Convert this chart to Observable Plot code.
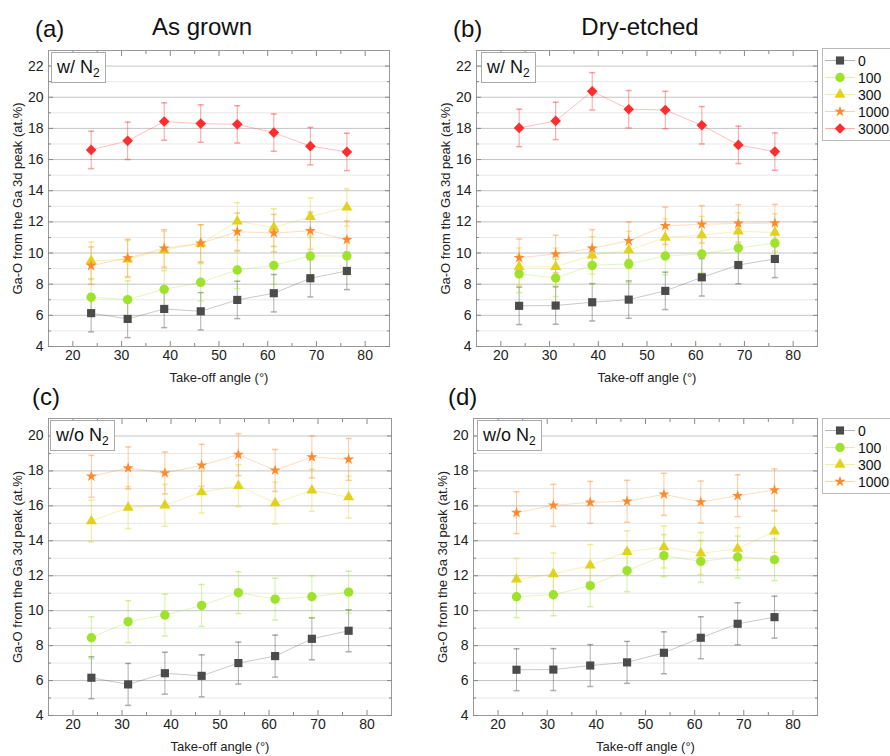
<!DOCTYPE html>
<html><head><meta charset="utf-8">
<script src="https://cdn.jsdelivr.net/npm/d3@7"></script>
<script src="https://cdn.jsdelivr.net/npm/@observablehq/plot@0.6"></script>
<style>
body{margin:0;background:#fff;font-family:"Liberation Sans",Arial,sans-serif;color:#111;}
#root{position:relative;width:890px;height:756px;overflow:hidden;background:#fff;}
.abs{position:absolute;white-space:nowrap;}
.plab{font-size:24px;}
.title{font-size:24px;transform:translateX(-50%);}
.cond{border:1px solid #aaa;background:#fff;font-size:18px;line-height:29px;padding:0 5px;}
.cond sub{font-size:12px;vertical-align:-4px;line-height:0;}
.legend{border:1px solid #bbb;background:#fff;padding:3px 0 3px 1px;width:80px;}
.legend .row{display:flex;align-items:center;height:17px;font-size:14px;color:#111;}
.legend svg{margin-right:2px;flex:none;}
</style></head>
<body><div id="root"></div>
<script>
// ---- data ----
const angles = [23.75, 31.25, 38.75, 46.25, 53.75, 61.25, 68.75, 76.25];
const seriesKeys = ["0", "100", "300", "1000", "3000"];
const xTicks = [20, 30, 40, 50, 60, 70, 80];
const xMinorTicks = [25, 35, 45, 55, 65, 75];
const yTicksTop = [4, 6, 8, 10, 12, 14, 16, 18, 20, 22];
const yMinorTop = [5, 7, 9, 11, 13, 15, 17, 19, 21];
const yTicksBottom = [4, 6, 8, 10, 12, 14, 16, 18, 20];
const yMinorBottom = [5, 7, 9, 11, 13, 15, 17, 19];
const errHalf = 1.2;

// (a) As grown, w/ N2
const a_0    = [6.14, 5.77, 6.41, 6.26, 6.99, 7.42, 8.38, 8.85];
const a_100  = [7.16, 7.01, 7.67, 8.12, 8.91, 9.21, 9.81, 9.81];
const a_300  = [9.50, 9.60, 10.19, 10.60, 12.03, 11.64, 12.33, 12.93];
const a_1000 = [9.19, 9.68, 10.30, 10.62, 11.37, 11.28, 11.43, 10.85];
const a_3000 = [16.62, 17.20, 18.44, 18.31, 18.26, 17.73, 16.86, 16.49];
// (b) Dry-etched, w/ N2
const b_0    = [6.61, 6.63, 6.84, 7.01, 7.57, 8.44, 9.23, 9.62];
const b_100  = [8.66, 8.40, 9.21, 9.30, 9.81, 9.94, 10.32, 10.64];
const b_300  = [9.12, 9.12, 9.85, 10.19, 11.00, 11.15, 11.39, 11.32];
const b_1000 = [9.70, 9.94, 10.30, 10.79, 11.75, 11.84, 11.90, 11.92];
const b_3000 = [18.03, 18.48, 20.38, 19.23, 19.18, 18.20, 16.94, 16.51];
// (c) As grown, w/o N2
const c_0    = [6.16, 5.78, 6.42, 6.27, 7.00, 7.40, 8.39, 8.85];
const c_100  = [8.45, 9.37, 9.75, 10.30, 11.03, 10.66, 10.80, 11.06];
const c_300  = [15.13, 15.90, 16.03, 16.79, 17.15, 16.16, 16.89, 16.50];
const c_1000 = [17.69, 18.17, 17.88, 18.32, 18.93, 18.03, 18.80, 18.66];
// (d) Dry-etched, w/o N2
const d_0    = [6.62, 6.63, 6.86, 7.04, 7.59, 8.45, 9.25, 9.63];
const d_100  = [10.80, 10.91, 11.43, 12.29, 13.15, 12.82, 13.07, 12.92];
const d_300  = [11.79, 12.10, 12.59, 13.37, 13.64, 13.28, 13.55, 14.54];
const d_1000 = [15.61, 16.03, 16.20, 16.26, 16.66, 16.22, 16.58, 16.91];

// ---- styles ----
const colors = {"0": "#4b4b4b", "100": "#9ee22c", "300": "#e2d21f", "1000": "#ff8a2b", "3000": "#ff2d2d"};
const symbols = {"0": d3.symbolSquare, "100": d3.symbolCircle, "300": d3.symbolTriangle, "1000": d3.symbolStar, "3000": d3.symbolDiamond2};
const radii = {"0": 4.6, "100": 4.7, "300": 4.1, "1000": 3.5, "3000": 4.8};
const capSymbol = {draw(ctx) { ctx.moveTo(-3, 0); ctx.lineTo(3, 0); }};
const FONT = "'Liberation Sans', Arial, sans-serif";

function panel({series, yDomain, yMajor, yMinor, width, height, marginLeft, marginRight, marginTop, marginBottom}) {
  const blank = () => "";
  const marks = [
    Plot.gridY(yMinor, {stroke: "#e8e8e8", strokeOpacity: 1}),
    Plot.gridY(yMajor, {stroke: "#c4c4c4", strokeOpacity: 1})
  ];
  const tables = series.map(([key, values]) => [key, angles.map((a, i) => ({angle: a, value: values[i]}))]);
  for (const [key, rows] of tables) {
    const c = colors[key];
    marks.push(Plot.line(rows, {x: "angle", y: "value", stroke: c, strokeOpacity: 0.3, strokeWidth: 1}));
    marks.push(Plot.ruleX(rows, {x: "angle", y1: d => d.value - errHalf, y2: d => d.value + errHalf, stroke: c, strokeOpacity: 0.45}));
    marks.push(Plot.dot(rows, {x: "angle", y: d => d.value - errHalf, symbol: capSymbol, r: 3, fill: "none", stroke: c, strokeOpacity: 0.45}));
    marks.push(Plot.dot(rows, {x: "angle", y: d => d.value + errHalf, symbol: capSymbol, r: 3, fill: "none", stroke: c, strokeOpacity: 0.45}));
  }
  for (const [key, rows] of tables) {
    marks.push(Plot.dot(rows, {x: "angle", y: "value", symbol: symbols[key], r: radii[key], fill: colors[key], stroke: "none"}));
  }
  marks.push(
    Plot.frame({stroke: "#999"}),
    Plot.axisY(yMajor, {anchor: "left", tickSize: -5, tickPadding: 10, label: null, fontSize: 14, stroke: "#888"}),
    Plot.axisY(yMinor, {anchor: "left", tickSize: -3, tickFormat: blank, label: null, stroke: "#888"}),
    Plot.axisY(yMajor, {anchor: "right", tickSize: -5, tickFormat: blank, label: null, stroke: "#888"}),
    Plot.axisY(yMinor, {anchor: "right", tickSize: -3, tickFormat: blank, label: null, stroke: "#888"}),
    Plot.axisX(xTicks, {anchor: "bottom", tickSize: -5, tickPadding: 9, label: null, fontSize: 14, stroke: "#888"}),
    Plot.axisX(xMinorTicks, {anchor: "bottom", tickSize: -3, tickFormat: blank, label: null, stroke: "#888"}),
    Plot.axisX(xTicks, {anchor: "top", tickSize: -5, tickFormat: blank, label: null, stroke: "#888"}),
    Plot.axisX(xMinorTicks, {anchor: "top", tickSize: -3, tickFormat: blank, label: null, stroke: "#888"}),
    Plot.text(["Ga-O from the Ga 3d peak (at.%)"], {text: d => d, frameAnchor: "left", textAnchor: "middle", lineAnchor: "middle", rotate: -90, dx: -31, fontSize: 13}),
    Plot.text(["Take-off angle (°)"], {text: d => d, frameAnchor: "bottom", textAnchor: "middle", dy: 35, fontSize: 13})
  );
  return Plot.plot({
    width, height, marginLeft, marginRight, marginTop, marginBottom,
    x: {domain: [15, 85]},
    y: {domain: yDomain},
    style: {fontFamily: FONT, fontSize: "14px", color: "#222", background: "transparent"},
    marks
  });
}

const root = document.getElementById("root");
function place(node, left, top) {
  const wrap = document.createElement("div");
  wrap.className = "abs";
  wrap.style.left = left + "px";
  wrap.style.top = top + "px";
  wrap.appendChild(node);
  root.appendChild(wrap);
  return wrap;
}
function html(str, cls, left, top) {
  const el = document.createElement("div");
  el.className = "abs " + cls;
  el.style.left = left + "px";
  el.style.top = top + "px";
  el.innerHTML = str;
  root.appendChild(el);
  return el;
}
function legend(keys, left, top) {
  const box = document.createElement("div");
  box.className = "abs legend";
  box.style.left = left + "px";
  box.style.top = top + "px";
  for (const k of keys) {
    const row = document.createElement("div");
    row.className = "row";
    const size = Math.PI * radii[k] * radii[k];
    const path = d3.symbol(symbols[k], size)();
    row.innerHTML = `<svg width="32" height="17"><line x1="1" x2="31" y1="8.5" y2="8.5" stroke="${colors[k]}" stroke-opacity="0.4"/><path d="${path}" transform="translate(16,8.5)" fill="${colors[k]}"/></svg><span>${k}</span>`;
    box.appendChild(row);
  }
  root.appendChild(box);
}

place(panel({series: [["0", a_0], ["100", a_100], ["300", a_300], ["1000", a_1000], ["3000", a_3000]],
  yDomain: [4, 23], yMajor: yTicksTop, yMinor: yMinorTop,
  width: 400, height: 352, marginLeft: 48, marginRight: 11, marginTop: 10, marginBottom: 46}), 0, 40);
place(panel({series: [["0", b_0], ["100", b_100], ["300", b_300], ["1000", b_1000], ["3000", b_3000]],
  yDomain: [4, 23], yMajor: yTicksTop, yMinor: yMinorTop,
  width: 400, height: 352, marginLeft: 48, marginRight: 11, marginTop: 10, marginBottom: 46}), 428, 40);
place(panel({series: [["0", c_0], ["100", c_100], ["300", c_300], ["1000", c_1000]],
  yDomain: [4, 21], yMajor: yTicksBottom, yMinor: yMinorBottom,
  width: 400, height: 352, marginLeft: 48, marginRight: 9, marginTop: 10, marginBottom: 45}), 0, 408);
place(panel({series: [["0", d_0], ["100", d_100], ["300", d_300], ["1000", d_1000]],
  yDomain: [4, 21], yMajor: yTicksBottom, yMinor: yMinorBottom,
  width: 400, height: 352, marginLeft: 48, marginRight: 8, marginTop: 10, marginBottom: 45}), 425, 408);

html("(a)", "plab", 35, 15);
html("As grown", "title", 202, 13);
html("(b)", "plab", 453, 15);
html("Dry-etched", "title", 640, 13);
html("(c)", "plab", 32, 383);
html("(d)", "plab", 448, 383);

html("w/ N<sub>2</sub>", "cond", 51, 52);
html("w/ N<sub>2</sub>", "cond", 481, 52);
html("w/o N<sub>2</sub>", "cond", 50, 420);
html("w/o N<sub>2</sub>", "cond", 477, 420);

legend(seriesKeys, 822, 48);
legend(seriesKeys.slice(0, 4), 822, 418);
</script>
</body></html>
